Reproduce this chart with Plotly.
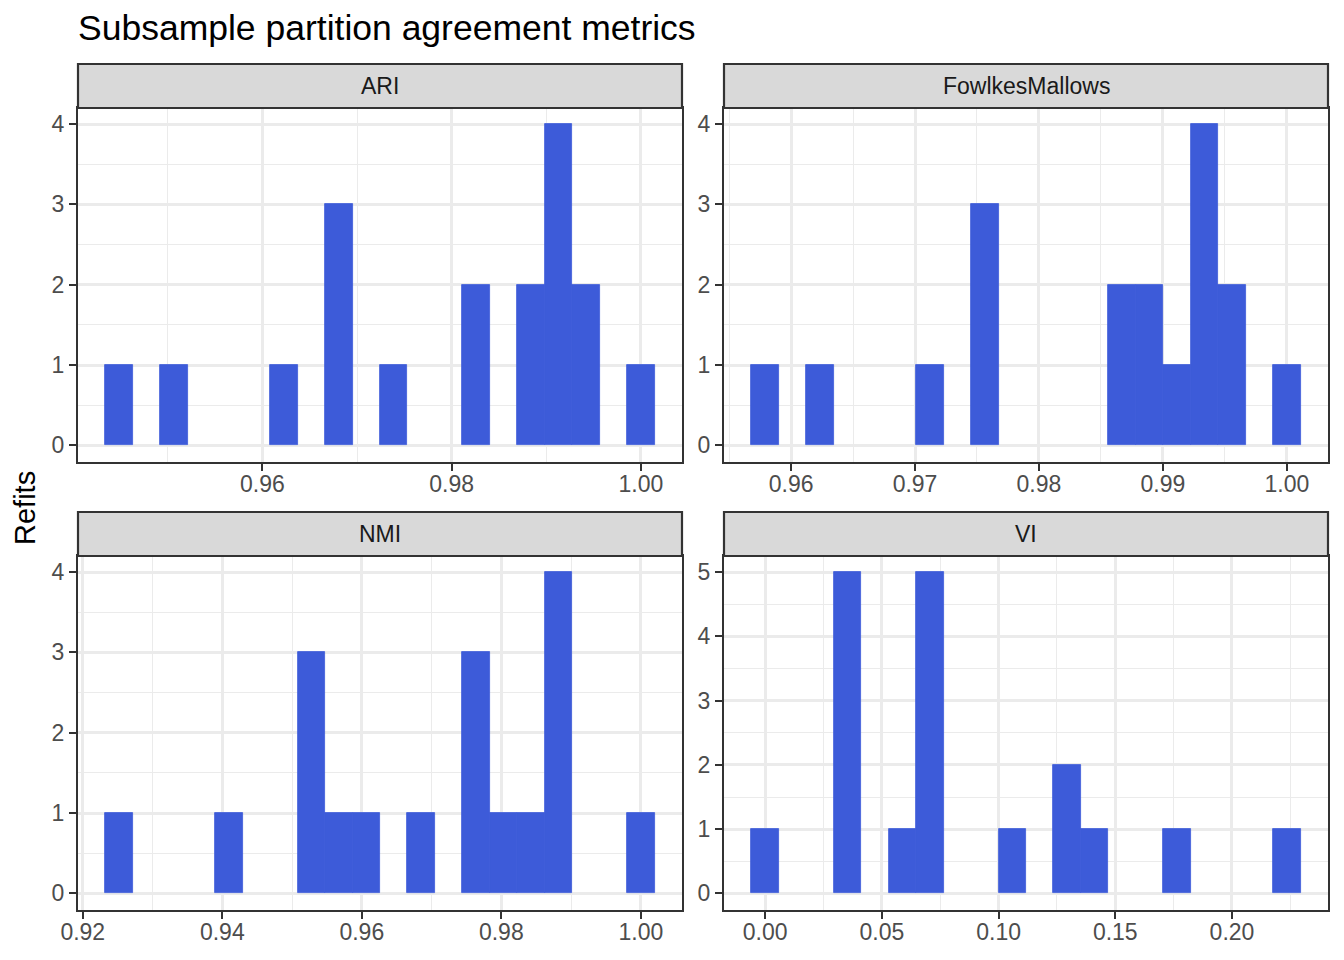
import plotly.graph_objects as go

# bin centres and counts (20 bins per metric)
ari_bins = [0.94486, 0.95066, 0.96227, 0.96808, 0.97388, 0.98259, 0.98839, 0.99129, 0.99420, 1.00000]
ari_counts = [1, 1, 1, 3, 1, 2, 2, 4, 2, 1]
ari_width = 0.002902

fm_bins = [0.95791, 0.96234, 0.97120, 0.97563, 0.98671, 0.98892, 0.99114, 0.99336, 0.99557, 1.00000]
fm_counts = [1, 1, 1, 3, 2, 2, 1, 4, 2, 1]
fm_width = 0.0022153

nmi_bins = [0.92522, 0.94096, 0.95277, 0.95671, 0.96064, 0.96851, 0.97639, 0.98032, 0.98426, 0.98819, 1.00000]
nmi_counts = [1, 1, 3, 1, 1, 1, 3, 1, 1, 4, 1]
nmi_width = 0.0039358

vi_bins = [0.0, 0.03529, 0.05882, 0.07058, 0.10587, 0.12939, 0.14116, 0.17645, 0.22350]
vi_counts = [1, 5, 1, 5, 1, 2, 1, 1, 1]
vi_width = 0.011763

panels = [
    ("ARI", ari_bins, ari_counts, ari_width, 0.02),
    ("FowlkesMallows", fm_bins, fm_counts, fm_width, 0.01),
    ("NMI", nmi_bins, nmi_counts, nmi_width, 0.02),
    ("VI", vi_bins, vi_counts, vi_width, 0.05),
]

# the page body adds an 8px margin, so the figure is 16px smaller and
# every pixel position below is shifted by -8
OFF = 8
W, H = 1344 - 2 * OFF, 960 - 2 * OFF
FONT = "Liberation Sans, Arial, sans-serif"
BAR = "#3D5BD9"
GRID = "#EBEBEB"
DARK = "#333333"

# panel boxes in screen pixels: (x0, x1, y0, y1) with y measured from the top
boxes = [
    (78, 682, 108, 461.5),
    (724, 1328, 108, 461.5),
    (78, 682, 556, 909.5),
    (724, 1328, 556, 909.5),
]
STRIP_H = 44


def px_x(x):
    return (x - OFF) / W


def px_y(y):
    return 1 - (y - OFF) / H


fig = go.Figure()
shapes = []
annotations = []

for i, (name, bins, counts, width, step) in enumerate(panels):
    n = "" if i == 0 else str(i + 1)
    x0, x1, y0, y1 = boxes[i]

    fig.add_trace(go.Bar(
        x=bins, y=counts, width=width,
        marker=dict(color=BAR, line=dict(width=0.8, color=BAR)),
        xaxis="x" + n, yaxis="y" + n,
        showlegend=False, hoverinfo="x+y",
    ))

    lo = bins[0] - width / 2
    hi = bins[-1] + width / 2
    pad = (hi - lo) * 0.05
    ymax = max(counts)

    axis_common = dict(
        automargin=False,
        showline=True, mirror=True, linecolor=DARK, linewidth=2.2,
        ticks="outside", ticklen=7, tickwidth=2.2, tickcolor=DARK,
        tickfont=dict(family=FONT, size=23, color="#4D4D4D"),
        showgrid=True, gridcolor=GRID, gridwidth=2.6,
        zeroline=False,
    )
    fig.layout["xaxis" + n] = dict(
        axis_common,
        domain=[px_x(x0), px_x(x1)],
        anchor="y" + n,
        range=[lo - pad, hi + pad],
        tick0=0, dtick=step, tickformat=".2f",
        ticklabelstandoff=-6,
        minor=dict(dtick=step / 2, showgrid=True, gridcolor=GRID, gridwidth=1.3),
    )
    fig.layout["yaxis" + n] = dict(
        axis_common,
        domain=[px_y(y1), px_y(y0)],
        anchor="x" + n,
        range=[-0.05 * ymax, 1.05 * ymax],
        tick0=0, dtick=1,
        minor=dict(dtick=0.5, showgrid=True, gridcolor=GRID, gridwidth=1.3),
    )

    # facet strip
    shapes.append(dict(
        type="rect", xref="paper", yref="paper",
        x0=px_x(x0), x1=px_x(x1), y0=px_y(y0), y1=px_y(y0 - STRIP_H),
        fillcolor="#D9D9D9", line=dict(color=DARK, width=2.2), layer="above",
    ))
    annotations.append(dict(
        text=name, xref="paper", yref="paper",
        x=px_x((x0 + x1) / 2), y=px_y(y0 - STRIP_H / 2),
        xanchor="center", yanchor="middle", showarrow=False,
        font=dict(family=FONT, size=23, color="#1A1A1A"),
    ))

annotations.append(dict(
    text="Subsample partition agreement metrics", xref="paper", yref="paper",
    x=px_x(76), y=px_y(28), xanchor="left", yanchor="middle", showarrow=False,
    font=dict(family=FONT, size=35.5, color="#000000"),
))
annotations.append(dict(
    text="Refits", xref="paper", yref="paper", textangle=-90,
    x=px_x(25), y=px_y(508), xanchor="center", yanchor="middle", showarrow=False,
    font=dict(family=FONT, size=29, color="#000000"),
))

fig.update_layout(
    template="none",
    width=W, height=H,
    margin=dict(l=0, r=0, t=0, b=0, autoexpand=False),
    paper_bgcolor="white", plot_bgcolor="white",
    bargap=0,
    shapes=shapes,
    annotations=annotations,
    font=dict(family=FONT),
)

fig.write_html("out.html")
